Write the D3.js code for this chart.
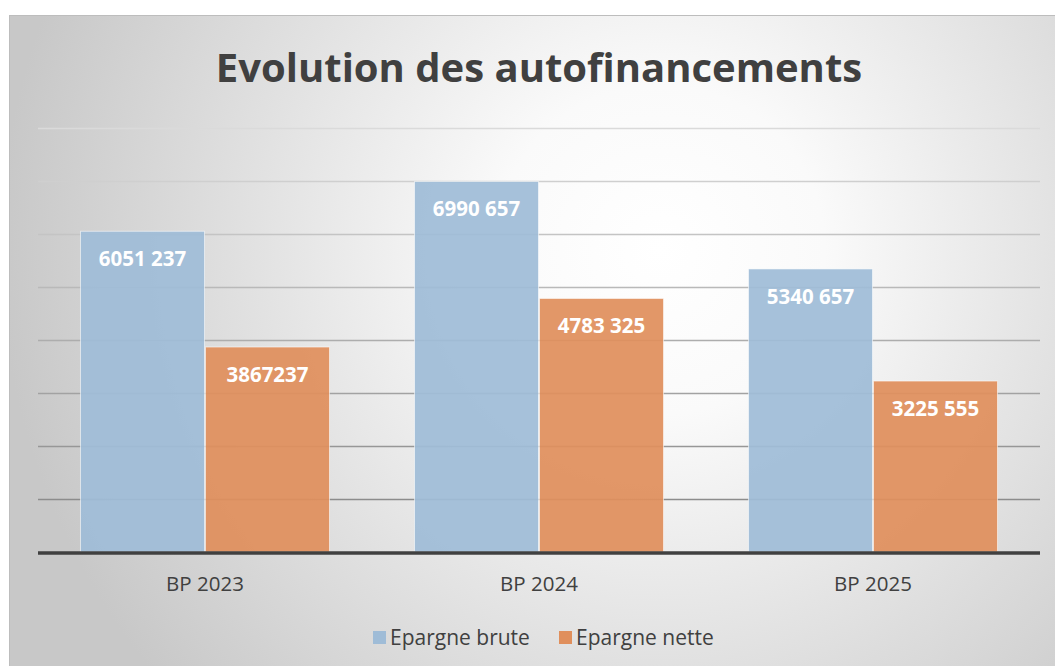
<!DOCTYPE html>
<html lang="fr">
<head>
<meta charset="UTF-8">
<script src="https://d3js.org/d3.v7.min.js"></script>
<title>Evolution des autofinancements</title>
<style>
  body { margin: 0; background: #fff; }
  svg { display: block; font-family: 'Open Sans', sans-serif; }
</style>
</head>
<body>
<svg id="chart" width="1055" height="666"></svg>
<script>
// data
const categories = ["BP 2023", "BP 2024", "BP 2025"];
const seriesNames = ["Epargne brute", "Epargne nette"];
const epargneBrute = [6051237, 6990657, 5340657];
const epargneNette = [3867237, 4783325, 3225555];
const labelsBrute = ["6051 237", "6990 657", "5340 657"];
const labelsNette = ["3867237", "4783 325", "3225 555"];
const yTicks = [1000000, 2000000, 3000000, 4000000, 5000000, 6000000, 7000000, 8000000];
const colors = ["#9fbcd7", "#e08f5c"];

const svg = d3.select("#chart");

// background with soft radial light
const defs = svg.append("defs");
const rg = defs.append("radialGradient")
  .attr("id", "bg")
  .attr("gradientUnits", "userSpaceOnUse")
  .attr("cx", 660).attr("cy", 250).attr("r", 660);
rg.append("stop").attr("offset", "0%").attr("stop-color", "#ffffff");
rg.append("stop").attr("offset", "25%").attr("stop-color", "#fafafa");
rg.append("stop").attr("offset", "100%").attr("stop-color", "#c8c8c8");

svg.append("rect")
  .attr("x", 9.5).attr("y", 15.5)
  .attr("width", 1050).attr("height", 660)
  .attr("fill", "url(#bg)")
  .attr("stroke", "#bdbdbd");

const plot = { left: 38, right: 1040, top: 128, bottom: 552 };

const y = d3.scaleLinear()
  .domain([0, 8000000])
  .range([plot.bottom, plot.top]);

const x = d3.scaleBand()
  .domain(categories)
  .range([plot.left, plot.right]);

const xSub = d3.scaleBand()
  .domain(seriesNames)
  .range([0, x.bandwidth()])
  .paddingOuter(0.336);

// gridlines get darker toward the base
const gridColor = d3.scaleLinear()
  .domain([8000000, 1000000])
  .range(["#dadada", "#8c8c8c"]);

svg.append("g")
  .selectAll("line")
  .data(yTicks)
  .join("line")
  .attr("x1", plot.left).attr("x2", plot.right)
  .attr("y1", d => Math.round(y(d)) + 0.5)
  .attr("y2", d => Math.round(y(d)) + 0.5)
  .attr("stroke", d => gridColor(d))
  .attr("stroke-width", 1.5);

// bars
const rows = categories.map((c, i) => ({
  cat: c,
  vals: [
    { s: seriesNames[0], v: epargneBrute[i], label: labelsBrute[i], color: colors[0] },
    { s: seriesNames[1], v: epargneNette[i], label: labelsNette[i], color: colors[1] }
  ]
}));

const groups = svg.append("g")
  .selectAll("g")
  .data(rows)
  .join("g")
  .attr("transform", d => `translate(${x(d.cat)},0)`);

groups.selectAll("rect")
  .data(d => d.vals)
  .join("rect")
  .attr("x", d => xSub(d.s) + 0.5)
  .attr("y", d => y(d.v))
  .attr("width", xSub.bandwidth() - 1)
  .attr("height", d => plot.bottom - y(d.v))
  .attr("fill", d => d.color)
  .attr("fill-opacity", 0.93)
  .attr("stroke", "rgba(255,255,255,0.55)")
  .attr("stroke-width", 1);

groups.selectAll("text")
  .data(d => d.vals)
  .join("text")
  .attr("x", d => xSub(d.s) + xSub.bandwidth() / 2)
  .attr("y", d => y(d.v) + 35)
  .attr("text-anchor", "middle")
  .attr("fill", "#ffffff")
  .attr("font-size", 20.5)
  .attr("font-weight", "bold")
  .text(d => d.label);

// base axis
svg.append("line")
  .attr("x1", plot.left).attr("x2", plot.right)
  .attr("y1", 553).attr("y2", 553)
  .attr("stroke", "#404040")
  .attr("stroke-width", 3.5);

// category labels
const xAxis = d3.axisBottom(x).tickSize(0).tickPadding(0);
const gx = svg.append("g")
  .attr("transform", "translate(0,591)")
  .call(xAxis);
gx.select(".domain").remove();
gx.selectAll("text")
  .attr("dy", 0)
  .attr("font-family", "'Open Sans', sans-serif")
  .attr("font-size", 20.5)
  .attr("fill", "#404040");

// title
svg.append("text")
  .attr("x", 539).attr("y", 82)
  .attr("text-anchor", "middle")
  .attr("font-size", 40)
  .attr("font-weight", "bold")
  .attr("fill", "#404040")
  .text("Evolution des autofinancements");

// legend
const legendX = [373, 559];
const legend = svg.append("g")
  .selectAll("g")
  .data(seriesNames)
  .join("g")
  .attr("transform", (d, i) => `translate(${legendX[i]},631)`);
legend.append("rect")
  .attr("width", 13).attr("height", 13)
  .attr("fill", (d, i) => colors[i]);
legend.append("text")
  .attr("x", 17).attr("y", 14)
  .attr("font-size", 21)
  .attr("fill", "#404040")
  .text(d => d);
</script>
</body>
</html>
